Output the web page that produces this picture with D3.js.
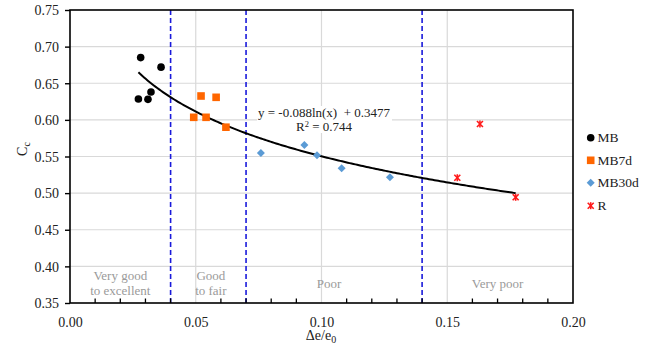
<!DOCTYPE html>
<html>
<head>
<meta charset="utf-8">
<script src="https://cdn.jsdelivr.net/npm/d3@7"></script>
<style>
  html, body { margin: 0; padding: 0; background: #fff; }
  svg { display: block; }
  svg text { font-family: "Liberation Serif", "Times New Roman", "DejaVu Serif", serif; }
</style>
</head>
<body>
<svg id="chart" width="646" height="349"></svg>
<script>
// ---- data ----
const mbX = [0.0281, 0.0362, 0.0322, 0.0272, 0.0310];
const mbY = [0.685, 0.672, 0.638, 0.6285, 0.628];
const mb7dX = [0.0521, 0.0581, 0.0492, 0.0541, 0.0620];
const mb7dY = [0.6326, 0.6308, 0.6035, 0.6035, 0.590];
const mb30dX = [0.0759, 0.0932, 0.0982, 0.1080, 0.1272];
const mb30dY = [0.5548, 0.5657, 0.5516, 0.534, 0.5216];
const rX = [0.1630, 0.1540, 0.1772];
const rY = [0.5944, 0.521, 0.4943];
const trendA = -0.088, trendB = 0.3477;
const trendXMin = 0.0272, trendXMax = 0.1772;
const xTicks = [0.00, 0.05, 0.10, 0.15, 0.20];
const xMinorTicks = [0.01,0.02,0.03,0.04,0.06,0.07,0.08,0.09,0.11,0.12,0.13,0.14,0.16,0.17,0.18,0.19];
const yTicks = [0.35, 0.40, 0.45, 0.50, 0.55, 0.60, 0.65, 0.70, 0.75];
const zoneLimits = [0.04, 0.07, 0.14];
const zoneLabels = [
  {x: 0.02, lines: ["Very good", "to excellent"]},
  {x: 0.056, lines: ["Good", "to fair"]},
  {x: 0.103, lines: ["Poor"]},
  {x: 0.170, lines: ["Very poor"]}
];
const legendNames = ["MB", "MB7d", "MB30d", "R"];

// ---- scales ----
const svg = d3.select("#chart");
const x = d3.scaleLinear().domain([0, 0.20]).range([70, 573]);
const y = d3.scaleLinear().domain([0.35, 0.75]).range([303, 10]);

// gridlines
svg.append("g").selectAll("line").data(yTicks.slice(1, -1)).join("line")
  .attr("x1", x(0)).attr("x2", x(0.2)).attr("y1", d => y(d)).attr("y2", d => y(d))
  .attr("stroke", "#d9d9d9").attr("stroke-width", 1.2);
svg.append("g").selectAll("line").data(xTicks.slice(1, -1)).join("line")
  .attr("x1", d => x(d)).attr("x2", d => x(d)).attr("y1", y(0.35)).attr("y2", y(0.75))
  .attr("stroke", "#d9d9d9").attr("stroke-width", 1.2);

// zone dashed lines
svg.append("g").selectAll("line").data(zoneLimits).join("line")
  .attr("x1", d => x(d)).attr("x2", d => x(d)).attr("y1", y(0.35)).attr("y2", y(0.75))
  .attr("stroke", "#1a1adb").attr("stroke-width", 1.6).attr("stroke-dasharray", "5,3");

// zone labels
const zl = svg.append("g").attr("fill", "#9a9a9a").attr("font-size", 13).attr("text-anchor", "middle");
zoneLabels.forEach(z => {
  const base = z.lines.length === 2 ? 280 : 287.5;
  z.lines.forEach((t, i) => {
    zl.append("text").attr("x", x(z.x)).attr("y", base + i * 15).text(t);
  });
});

// trendline
const trendPts = d3.range(0, 201).map(i => {
  const xv = trendXMin + (trendXMax - trendXMin) * i / 200;
  return [xv, trendA * Math.log(xv) + trendB];
});
svg.append("path").datum(trendPts)
  .attr("d", d3.line().x(d => x(d[0])).y(d => y(d[1])))
  .attr("fill", "none").attr("stroke", "#000").attr("stroke-width", 2);

// equation label
svg.append("rect").attr("x", 257).attr("y", 106).attr("width", 135).attr("height", 27).attr("fill", "#fff");
const eq = svg.append("g").attr("font-size", 13).attr("text-anchor", "middle").attr("fill", "#222");
eq.append("text").attr("x", 324).attr("y", 116.5).style("white-space", "pre").text("y = -0.088ln(x)  + 0.3477");
const r2 = eq.append("text").attr("x", 324).attr("y", 130.5);
r2.append("tspan").text("R");
r2.append("tspan").attr("font-size", 8.5).attr("dy", -4).text("2");
r2.append("tspan").attr("dy", 4).text(" = 0.744");

// markers
function star(g, cx, cy, s) {
  const p = g.append("g").attr("stroke", "#ff1a1a").attr("stroke-width", 1.6);
  p.append("line").attr("x1", cx - s).attr("y1", cy - s).attr("x2", cx + s).attr("y2", cy + s);
  p.append("line").attr("x1", cx - s).attr("y1", cy + s).attr("x2", cx + s).attr("y2", cy - s);
  p.append("line").attr("x1", cx).attr("y1", cy - s - 0.5).attr("x2", cx).attr("y2", cy + s + 0.5);
}
const pts = svg.append("g");
pts.selectAll("circle").data(d3.zip(mbX, mbY)).join("circle")
  .attr("cx", d => x(d[0])).attr("cy", d => y(d[1])).attr("r", 3.8).attr("fill", "#000");
pts.selectAll("rect").data(d3.zip(mb7dX, mb7dY)).join("rect")
  .attr("x", d => x(d[0]) - 3.8).attr("y", d => y(d[1]) - 3.8).attr("width", 7.6).attr("height", 7.6)
  .attr("fill", "#ff6600");
pts.selectAll("path").data(d3.zip(mb30dX, mb30dY)).join("path")
  .attr("d", d => { const cx = x(d[0]), cy = y(d[1]), s = 4; return `M${cx},${cy - s}L${cx + s},${cy}L${cx},${cy + s}L${cx - s},${cy}Z`; })
  .attr("fill", "#5b9bd5");
d3.zip(rX, rY).forEach(d => star(pts, x(d[0]), y(d[1]), 3));

// axes frame
svg.append("rect").attr("x", x(0)).attr("y", y(0.75)).attr("width", x(0.2) - x(0)).attr("height", y(0.35) - y(0.75))
  .attr("fill", "none").attr("stroke", "#000").attr("stroke-width", 1.6);

// y axis ticks/labels
const yAxis = d3.axisLeft(y).tickValues(yTicks).tickFormat(d3.format(".2f")).tickSize(5).tickPadding(6);
const ya = svg.append("g").attr("transform", `translate(${x(0)},0)`).call(yAxis).attr("font-family", null).attr("font-size", null);
ya.select(".domain").remove();
ya.selectAll("line").attr("stroke", "#000").attr("stroke-width", 1.4);
ya.selectAll("text").attr("font-size", 14).attr("fill", "#222").attr("dy", "0.34em");

// x axis labels + minor ticks inside
const xAxis = d3.axisBottom(x).tickValues(xTicks).tickFormat(d3.format(".2f")).tickSize(0).tickPadding(0);
const xa = svg.append("g").attr("transform", `translate(0,${y(0.35)})`).call(xAxis).attr("font-family", null).attr("font-size", null);
xa.select(".domain").remove();
xa.selectAll("text").attr("font-size", 14).attr("fill", "#222").attr("y", 23.5).attr("dy", 0);
svg.append("g").selectAll("line").data(xMinorTicks).join("line")
  .attr("x1", d => x(d)).attr("x2", d => x(d)).attr("y1", y(0.35)).attr("y2", y(0.35) - 4.5)
  .attr("stroke", "#000").attr("stroke-width", 1.3);

// axis titles
const xt = svg.append("text").attr("x", 321).attr("y", 340).attr("text-anchor", "middle").attr("font-size", 14).attr("fill", "#222");
xt.append("tspan").text("Δe/e");
xt.append("tspan").attr("font-size", 10).attr("dy", 2.5).text("0");
const yt = svg.append("text").attr("transform", "translate(26.5,149) rotate(-90)").attr("text-anchor", "middle").attr("font-size", 14).attr("fill", "#222");
yt.append("tspan").text("C");
yt.append("tspan").attr("font-size", 10).attr("dy", 3).text("c");

// legend
const lg = svg.append("g").attr("font-size", 13.5).attr("fill", "#222");
const ly = [137.7, 160.3, 182.7, 205.7];
const lx = 590.7;
lg.append("circle").attr("cx", lx).attr("cy", ly[0]).attr("r", 3.8).attr("fill", "#000");
lg.append("rect").attr("x", lx - 3.8).attr("y", ly[1] - 3.8).attr("width", 7.6).attr("height", 7.6).attr("fill", "#ff6600");
lg.append("path").attr("d", `M${lx},${ly[2] - 4}L${lx + 4},${ly[2]}L${lx},${ly[2] + 4}L${lx - 4},${ly[2]}Z`).attr("fill", "#5b9bd5");
star(lg, lx, ly[3], 3);
legendNames.forEach((n, i) => {
  lg.append("text").attr("x", 597.5).attr("y", ly[i] + 4.5).text(n);
});
</script>
</body>
</html>
